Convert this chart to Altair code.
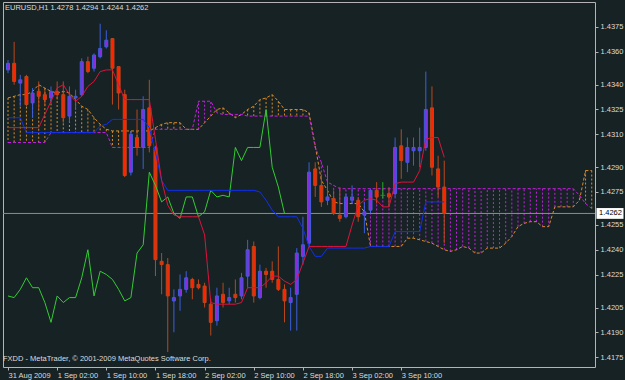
import altair as alt
import pandas as pd

# ---------------- data ----------------
symbol = "EURUSD,H1"
copyright_text = "FXDD - MetaTrader, \u00a9 2001-2009 MetaQuotes Software Corp."
time_labels = ["31 Aug 2009", "1 Sep 02:00", "1 Sep 10:00", "1 Sep 18:00", "2 Sep 02:00",
               "2 Sep 10:00", "2 Sep 18:00", "3 Sep 02:00", "3 Sep 10:00"]
time_label_bars = [0, 8, 16, 24, 32, 40, 48, 56, 64]
price_ticks = [1.4375, 1.4360, 1.4340, 1.4325, 1.4310, 1.4290, 1.4275, 1.4255,
               1.4240, 1.4225, 1.4205, 1.4190, 1.4175]

open_ = [1.4349, 1.4353, 1.4341, 1.4345, 1.4329, 1.4336, 1.4334, 1.4332, 1.4336, 1.4334,
         1.4321, 1.4332, 1.4334, 1.4354, 1.4350, 1.4357, 1.4363, 1.4368, 1.4351, 1.4334,
         1.4287, 1.4308, 1.4302, 1.4326, 1.4302, 1.4233, 1.4231, 1.4209, 1.4212, 1.4216,
         1.4222, 1.4219, 1.4218, 1.4207, 1.4197, 1.4213, 1.4209, 1.4213, 1.4212, 1.4224,
         1.4242, 1.4211, 1.4227, 1.4227, 1.4222, 1.4216, 1.4208, 1.4213, 1.4236, 1.4244,
         1.4289, 1.4279, 1.4270, 1.4271, 1.4261, 1.4260, 1.4270, 1.4270, 1.4261, 1.4264,
         1.4276, 1.4273, 1.4274, 1.4274, 1.4303, 1.4293, 1.4300, 1.4300, 1.4302, 1.4326,
         1.4289, 1.4278]
high = [1.4355, 1.4366, 1.4346, 1.4346, 1.4338, 1.4342, 1.4337, 1.4339, 1.4342, 1.4342,
        1.4339, 1.4337, 1.4356, 1.4357, 1.4359, 1.4377, 1.4373, 1.4368, 1.4351, 1.4337,
        1.4312, 1.4325, 1.4333, 1.4343, 1.4303, 1.4238, 1.4235, 1.4216, 1.4225, 1.4227,
        1.4223, 1.4222, 1.4220, 1.4210, 1.4217, 1.4220, 1.4217, 1.4222, 1.4226, 1.4246,
        1.4245, 1.4231, 1.4229, 1.4233, 1.4242, 1.4219, 1.4217, 1.4241, 1.4260, 1.4293,
        1.4293, 1.4285, 1.4291, 1.4276, 1.4278, 1.4274, 1.4279, 1.4272, 1.4269, 1.4277,
        1.4281, 1.4281, 1.4278, 1.4308, 1.4313, 1.4308, 1.4308, 1.4314, 1.4348, 1.4339,
        1.4297, 1.4294]
low = [1.4347, 1.4340, 1.4327, 1.4327, 1.4320, 1.4325, 1.4327, 1.4329, 1.4331, 1.4317,
       1.4317, 1.4325, 1.4333, 1.4347, 1.4348, 1.4356, 1.4362, 1.4328, 1.4325, 1.4284,
       1.4285, 1.4297, 1.4289, 1.4299, 1.4224, 1.4213, 1.4178, 1.4190, 1.4203, 1.4214,
       1.4210, 1.4216, 1.4205, 1.4188, 1.4194, 1.4205, 1.4207, 1.4208, 1.4210, 1.4217,
       1.4208, 1.4210, 1.4217, 1.4220, 1.4215, 1.4196, 1.4191, 1.4191, 1.4231, 1.4242,
       1.4272, 1.4266, 1.4267, 1.4261, 1.4257, 1.4259, 1.4268, 1.4257, 1.4250, 1.4262,
       1.4268, 1.4271, 1.4266, 1.4272, 1.4283, 1.4287, 1.4291, 1.4290, 1.4300, 1.4285,
       1.4272, 1.4244]
close = [1.4353, 1.4342, 1.4343, 1.4328, 1.4335, 1.4333, 1.4331, 1.4336, 1.4334, 1.4320,
         1.4333, 1.4333, 1.4354, 1.4348, 1.4358, 1.4362, 1.4367, 1.4350, 1.4335, 1.4285,
         1.4310, 1.4302, 1.4325, 1.4303, 1.4234, 1.4231, 1.4212, 1.4211, 1.4216, 1.4223,
         1.4217, 1.4217, 1.4208, 1.4196, 1.4212, 1.4208, 1.4211, 1.4211, 1.4223, 1.4240,
         1.4212, 1.4227, 1.4225, 1.4222, 1.4216, 1.4209, 1.4211, 1.4238, 1.4243, 1.4287,
         1.4279, 1.4269, 1.4272, 1.4262, 1.4259, 1.4272, 1.4272, 1.4260, 1.4263, 1.4276,
         1.4272, 1.4273, 1.4272, 1.4302, 1.4294, 1.4302, 1.4302, 1.4302, 1.4325, 1.4290,
         1.4278, 1.4262]

tenkan = ([1.4314] * 6 +
          [1.4322, 1.4330, 1.4338, 1.4340, 1.4334, 1.4330, 1.4333, 1.4339, 1.4342, 1.4348,
           1.4349, 1.4349, 1.4340] +
          [1.4331] * 5 + [1.4307, 1.4282, 1.4267, 1.4261] + [1.4260] * 4 +
          [1.4249, 1.4208] + [1.4207] * 4 + [1.4208] + [1.4217] * 3 +
          [1.4220, 1.4224, 1.4224, 1.4221, 1.4219, 1.4222, 1.4232] + [1.4242] * 7 +
          [1.4255, 1.4267, 1.4270, 1.4271, 1.4270, 1.4266, 1.4266, 1.4280] + [1.4281] * 3 +
          [1.4288, 1.4307, 1.4308, 1.4308, 1.4296])
kijun = ([1.4320] * 3 + [1.4311] * 12 + [1.4315, 1.4316, 1.4319] + [1.4319] * 5 +
         [1.4314, 1.4299, 1.4282] + [1.4276] * 15 + [1.4275, 1.4270, 1.4264] + [1.4260] * 4 +
         [1.4253, 1.4242] + [1.4236] * 2 + [1.4241] * 7 + [1.4242] * 4 + [1.4251] +
         [1.4251] * 4 + [1.4269] * 4)
chikou = close[26:]
span_a = [1.4332, 1.4333, 1.4334, 1.4334, 1.4336, 1.4340, 1.4338, 1.4336, 1.4335, 1.4336,
          1.4335, 1.4331, 1.4327, 1.4325, 1.4320, 1.4316, 1.4313, 1.4312, 1.4312, 1.4312,
          1.4312, 1.4312, 1.4312, 1.4312, 1.4314, 1.4316, 1.4317, 1.4317, 1.4317, 1.4313,
          1.4313, 1.4313, 1.4317, 1.4321, 1.4325, 1.4326, 1.4323, 1.4320, 1.4322, 1.4325,
          1.4327, 1.4331, 1.4332, 1.4334, 1.4330, 1.4325, 1.4325, 1.4325, 1.4325, 1.4323,
          1.4303, 1.4282, 1.4276, 1.4269, 1.4268, 1.4268, 1.4268, 1.4268, 1.4263, 1.4242,
          1.4242, 1.4242, 1.4242, 1.4242, 1.4242, 1.4247, 1.4247, 1.4246, 1.4245, 1.4244,
          1.4242, 1.4240, 1.4239, 1.4240, 1.4242, 1.4241, 1.4238, 1.4238, 1.4241, 1.4241,
          1.4241, 1.4244, 1.4248, 1.4254, 1.4256, 1.4257, 1.4257, 1.4254, 1.4254, 1.4266,
          1.4266, 1.4266, 1.4266, 1.4270, 1.4288, 1.4288]
span_b = ([1.4305] * 7 + [1.4311] * 10 + [1.4302] * 7 + [1.4313] * 7 + [1.4330] * 3 +
          [1.4323] + [1.4322] * 4 + [1.4321] * 11 + [1.4302, 1.4293, 1.4281, 1.4279] +
          [1.4277] * 39 + [1.4273, 1.4268, 1.4265])

# ---------------- colours ----------------
BG = "#172224"
FRAME = "#b4b4b4"
TEXT = "#dcdcdc"
BULL_BODY = "#8a2be2"
BULL_WICK = "#3d5fd9"
BEAR_BODY = "#ff2400"
BEAR_WICK = "#b8481c"
DOJI = "#22b022"
TENKAN = "#dc143c"
KIJUN = "#1030f0"
CHIKOU = "#32cd32"
SPAN_A = "#d98c2a"
SPAN_B = "#c81ee6"
FONT = "Liberation Sans"
FS = 7.5

# ---------------- tables ----------------
candles = pd.DataFrame({"i": range(len(close)), "open": open_, "high": high,
                        "low": low, "close": close})
candles["dir"] = ["up" if c > o else ("down" if c < o else "doji")
                  for o, c in zip(open_, close)]
up = candles[candles["dir"] == "up"]
down = candles[candles["dir"] == "down"]
doji = candles[candles["dir"] == "doji"]

lines = pd.DataFrame({"i": range(len(tenkan)), "tenkan": tenkan, "kijun": kijun})
chik = pd.DataFrame({"i": range(len(chikou)), "chikou": chikou})
cloud = pd.DataFrame({"i": range(len(span_a)), "a": span_a, "b": span_b})
cloud_a = cloud[cloud["a"] >= cloud["b"]]
cloud_b = cloud[cloud["a"] < cloud["b"]]
last = pd.DataFrame({"p": [close[-1]], "label": [f"{close[-1]:.4f}"]})

# ---------------- scales / axes ----------------
xscale = alt.Scale(domain=[0, 94.72], nice=False, zero=False)
yscale = alt.Scale(domain=[1.416894, 1.439015], nice=False, zero=False)
label_js = "[" + ",".join(f"'{t}'" for t in time_labels) + "]"
xaxis = alt.Axis(values=time_label_bars, labelExpr=f"{label_js}[round(datum.value/8)]",
                 labelAlign="left", labelBaseline="top", labelPadding=1, labelFlush=False,
                 labelOverlap=False, tickSize=3, tickColor=FRAME, domain=False, grid=False,
                 title=None, labelColor=TEXT, labelFont=FONT, labelFontSize=FS)
yaxis = alt.Axis(orient="right", values=price_ticks, format=".4f", labelPadding=2,
                 tickSize=3, tickColor=FRAME, domain=False, grid=False, title=None,
                 labelColor=TEXT, labelFont=FONT, labelFontSize=FS, labelOverlap=False,
                 labelFlush=False)


def X(f="i"):
    return alt.X(f"{f}:Q", scale=xscale, axis=xaxis)


def Y(f):
    return alt.Y(f"{f}:Q", scale=yscale, axis=yaxis)


# ---------------- layers ----------------
hatch_a = alt.Chart(cloud_a).mark_rule(color=SPAN_A, strokeDash=[2, 2], clip=True).encode(
    x=X(), y=Y("a"), y2="b")
hatch_b = alt.Chart(cloud_b).mark_rule(color=SPAN_B, strokeDash=[2, 2], clip=True).encode(
    x=X(), y=Y("a"), y2="b")
line_a = alt.Chart(cloud).mark_line(color=SPAN_A, strokeDash=[3, 2], strokeWidth=1,
                                    clip=True).encode(x=X(), y=Y("a"))
line_b = alt.Chart(cloud).mark_line(color=SPAN_B, strokeDash=[3, 2], strokeWidth=1,
                                    clip=True).encode(x=X(), y=Y("b"))

price_line = alt.Chart(last).mark_rule(color="#8a8e8e", strokeWidth=1).encode(y=Y("p"))

wick_up = alt.Chart(up).mark_rule(color=BULL_WICK).encode(x=X(), y=Y("low"), y2="high")
wick_dn = alt.Chart(down).mark_rule(color=BEAR_WICK).encode(x=X(), y=Y("low"), y2="high")
wick_dj = alt.Chart(doji).mark_rule(color=DOJI).encode(x=X(), y=Y("low"), y2="high")
body_up = alt.Chart(up).mark_bar(width=3, color=BULL_BODY, stroke=BULL_WICK,
                                 strokeWidth=1).encode(x=X(), y=Y("open"), y2="close")
body_dn = alt.Chart(down).mark_bar(width=3, color=BEAR_BODY, stroke=BEAR_WICK,
                                   strokeWidth=1).encode(x=X(), y=Y("open"), y2="close")
body_dj = alt.Chart(doji).mark_tick(orient="horizontal", size=5, thickness=1,
                                    color=DOJI).encode(x=X(), y=Y("open"))

tenkan_l = alt.Chart(lines).mark_line(color=TENKAN, strokeWidth=1).encode(x=X(), y=Y("tenkan"))
kijun_l = alt.Chart(lines).mark_line(color=KIJUN, strokeWidth=1).encode(x=X(), y=Y("kijun"))
chikou_l = alt.Chart(chik).mark_line(color=CHIKOU, strokeWidth=1).encode(x=X(), y=Y("chikou"))

box = alt.Chart(last).mark_point(
    shape="M-1,-0.4L1,-0.4L1,0.4L-1,0.4Z", size=729, filled=True, fill="white",
    opacity=1, clip=False).encode(x=alt.value(607), y=Y("p"))
box_text = alt.Chart(last).mark_text(align="left", baseline="middle", color="black",
                                     font=FONT, fontSize=FS, clip=False).encode(
    x=alt.value(596), y=Y("p"), text="label:N")

header = alt.Chart(pd.DataFrame({"t": [f"{symbol}  {open_[-1]:.4f} {high[-1]:.4f} "
                                       f"{low[-1]:.4f} {close[-1]:.4f}"]})).mark_text(
    align="left", baseline="middle", color=TEXT, font=FONT, fontSize=FS).encode(
    x=alt.value(2), y=alt.value(6), text="t:N")
footer = alt.Chart(pd.DataFrame({"t": [copyright_text]})).mark_text(
    align="left", baseline="middle", color=TEXT, font=FONT, fontSize=FS).encode(
    x=alt.value(0), y=alt.value(357), text="t:N")

chart = alt.layer(
    hatch_a, hatch_b, line_a, line_b, price_line,
    wick_up, wick_dn, wick_dj, body_up, body_dn, body_dj,
    chikou_l, kijun_l, tenkan_l,
    box, box_text, header, footer,
).properties(
    width=592, height=365,
    autosize=alt.AutoSizeParams(type="none"),
    padding={"left": 3, "top": 2, "right": 30, "bottom": 13},
).configure(background=BG).configure_view(stroke=FRAME, strokeWidth=1)

chart.save("out.html", embed_options={"renderer": "svg", "actions": False})
